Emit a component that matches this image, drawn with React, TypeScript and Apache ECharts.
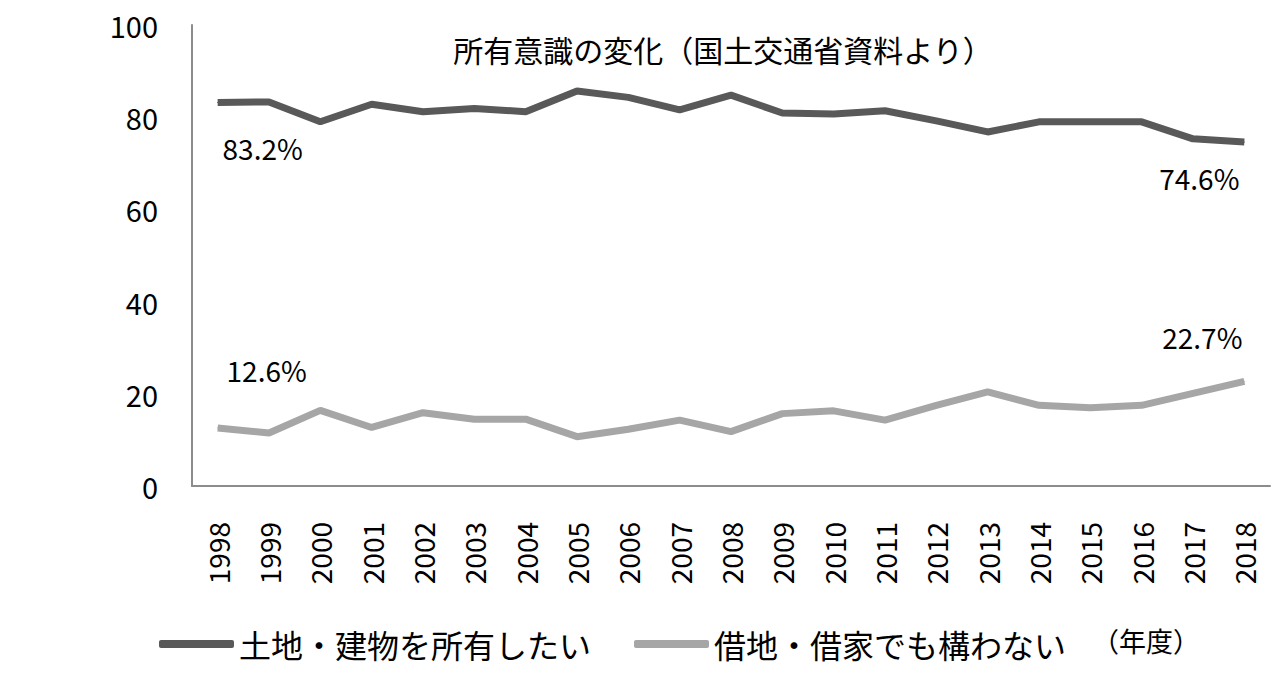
import React, { useEffect, useRef } from "react";
import * as echarts from "echarts";

const years = [
  "1998", "1999", "2000", "2001", "2002", "2003", "2004", "2005", "2006", "2007",
  "2008", "2009", "2010", "2011", "2012", "2013", "2014", "2015", "2016", "2017", "2018",
];
const ownValues = [
  83.2, 83.3, 79.0, 82.8, 81.2, 81.9, 81.2, 85.7, 84.3, 81.6,
  84.8, 80.9, 80.7, 81.4, 79.2, 76.8, 79.0, 79.0, 79.0, 75.3, 74.6,
];
const rentValues = [
  12.6, 11.5, 16.4, 12.7, 15.9, 14.5, 14.5, 10.7, 12.3, 14.3,
  11.8, 15.7, 16.3, 14.3, 17.5, 20.4, 17.5, 17.0, 17.5, 20.1, 22.7,
];
const seriesNames = ["土地・建物を所有したい", "借地・借家でも構わない"];
const titleText = "所有意識の変化（国土交通省資料より）";
const unitText = "（年度）";

export default function App() {
  const ref = useRef<HTMLDivElement>(null);
  useEffect(() => {
    if (!ref.current) return;
    const chart = echarts.init(ref.current, null, { renderer: "svg" });
    const font = "'Noto Sans CJK JP', 'Noto Sans', sans-serif";
    const last = years.length - 1;
    const mk = (vals: number[], firstOff: number[], lastOff: number[]) =>
      vals.map((v, i) => {
        if (i === 0 || i === last) {
          return {
            value: v,
            label: {
              show: true,
              position: "inside",
              offset: i === 0 ? firstOff : lastOff,
              formatter: () => v.toFixed(1) + "%",
              fontSize: 28,
              fontFamily: font,
              color: "#000",
            },
          };
        }
        return v;
      });
    chart.setOption({
      animation: false,
      backgroundColor: "#fff",
      title: {
        text: titleText,
        left: 718,
        top: 29,
        textAlign: "center",
        textStyle: { fontSize: 30, fontWeight: "normal", color: "#000", fontFamily: font },
      },
      legend: {
        left: 154,
        top: 623,
        icon: "roundRect",
        itemWidth: 75,
        itemHeight: 8,
        itemGap: 43,
        textStyle: { fontSize: 32, color: "#000", fontFamily: font },
        data: seriesNames,
      },
      graphic: [
        {
          type: "text",
          left: 1092,
          top: 627,
          style: { text: unitText, fontSize: 27, fill: "#000", fontFamily: font },
        },
      ],
      grid: { left: 192, right: 13, top: 25, bottom: 197, containLabel: false },
      xAxis: {
        type: "category",
        data: years,
        boundaryGap: true,
        axisLine: { show: true, lineStyle: { color: "#8c8c8c", width: 2 } },
        axisTick: { show: false },
        axisLabel: { rotate: 90, margin: 36, fontSize: 28, color: "#000", fontFamily: font },
      },
      yAxis: {
        type: "value",
        min: 0,
        max: 100,
        interval: 20,
        splitLine: { show: false },
        axisLine: { show: true, lineStyle: { color: "#8c8c8c", width: 2 } },
        axisTick: { show: false },
        axisLabel: { margin: 34, fontSize: 29, color: "#000", fontFamily: font },
      },
      series: [
        {
          name: seriesNames[0],
          type: "line",
          data: mk(ownValues, [45, 46], [-45, 36]),
          symbol: "circle",
          symbolSize: 1,
          lineStyle: { color: "#595959", width: 7 },
          itemStyle: { color: "#595959" },
          label: { show: false },
        },
        {
          name: seriesNames[1],
          type: "line",
          data: mk(rentValues, [49, -58], [-42, -44]),
          symbol: "circle",
          symbolSize: 1,
          lineStyle: { color: "#a6a6a6", width: 7 },
          itemStyle: { color: "#a6a6a6" },
          label: { show: false },
        },
      ],
    });
    return () => chart.dispose();
  }, []);
  return (
    <div
      ref={ref}
      style={{ position: "fixed", left: 0, top: 0, width: 1283, height: 683, background: "#fff" }}
    />
  );
}
